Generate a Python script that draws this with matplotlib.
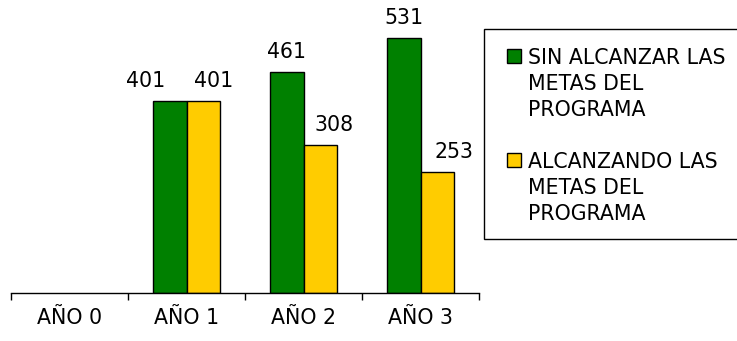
import matplotlib
matplotlib.use("Agg")
import matplotlib.pyplot as plt
from matplotlib.patches import Rectangle
import numpy as np

categories = ["AÑO 0", "AÑO 1", "AÑO 2", "AÑO 3"]
sin_alcanzar = [None, 401, 461, 531]
alcanzando = [None, 401, 308, 253]
series_labels = ["SIN ALCANZAR LAS\nMETAS DEL\nPROGRAMA",
                 "ALCANZANDO LAS\nMETAS DEL\nPROGRAMA"]
colors = ["#008000", "#FFCC00"]
# horizontal nudges (points) for the value labels, per series and category
label_dx = [[0, -17.3, 0, 0], [0, 7.2, 10.0, 12.2]]

W, H = 737, 341
DPI = 100
FS = 14.8
plt.rcParams["font.family"] = ["DejaVu Sans"]

fig = plt.figure(figsize=(W / DPI, H / DPI), dpi=DPI)
# axes placed in pixel terms: x 11..479, y 10..293 (from top)
ax = fig.add_axes([11 / W, (H - 293) / H, 468 / W, 283 / H])

x = np.arange(len(categories))
bw = 0.285
for i, (vals, col) in enumerate(zip([sin_alcanzar, alcanzando], colors)):
    for xi, v, dx in zip(x, vals, label_dx[i]):
        if v is None:
            continue
        xb = xi + (i - 0.5) * bw
        ax.bar(xb, v, width=bw, color=col, edgecolor="black", linewidth=1.0)
        ax.annotate(str(v), (xb, v), xytext=(dx, 10.0), textcoords="offset points",
                    ha="center", va="baseline", fontsize=FS)

ax.set_xlim(-0.5, 3.5)
ax.set_ylim(0, 590)
for s in ["top", "right", "left"]:
    ax.spines[s].set_visible(False)
ax.spines["bottom"].set_linewidth(1.0)
ax.set_yticks([])
ax.set_xticks(x)
ax.set_xticklabels(categories, fontsize=FS)
ax.tick_params(axis="x", which="major", length=0, pad=11)
ax.set_xticks(np.arange(-0.5, 4.0, 1.0), minor=True)
ax.tick_params(axis="x", which="minor", length=5, width=1.0, color="black")

# legend box
fig.patches.append(Rectangle((484 / W, (H - 239) / H), 300 / W, 210 / H,
                             transform=fig.transFigure, facecolor="white",
                             edgecolor="black", linewidth=1.0))
for k, (lab, col) in enumerate(zip(series_labels, colors)):
    y_center = 56 + k * 104
    fig.patches.append(Rectangle((507 / W, (H - y_center - 7) / H), 14 / W, 14 / H,
                                 transform=fig.transFigure, facecolor=col,
                                 edgecolor="black", linewidth=1.0))
    for j, line in enumerate(lab.split("\n")):
        yb = y_center + 7.5 + j * 26
        fig.text(528 / W, (H - yb) / H, line, fontsize=FS, ha="left", va="baseline")

fig.savefig("out.png", dpi=DPI)
